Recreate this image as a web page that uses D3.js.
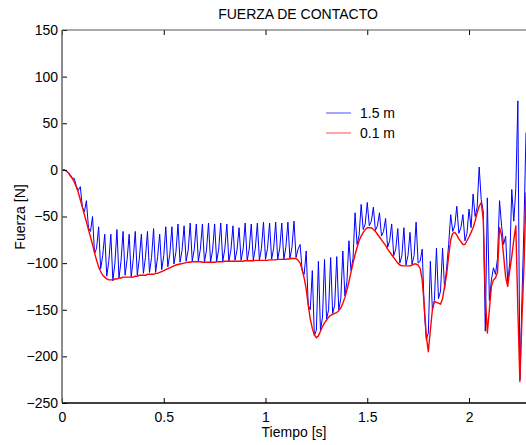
<!DOCTYPE html>
<html>
<head>
<meta charset="utf-8">
<script src="https://cdn.jsdelivr.net/npm/d3@7/dist/d3.min.js"></script>
<style>
  html, body { margin: 0; padding: 0; background: #fff; }
  svg { display: block; font-family: "Liberation Sans", Arial, sans-serif; }
</style>
</head>
<body>
<svg id="chart" width="526" height="445"></svg>
<script>
// ---- data ----
const title = "FUERZA DE CONTACTO";
const xLabel = "Tiempo [s]";
const yLabel = "Fuerza [N]";
const xTicks = [0, 0.5, 1, 1.5, 2];
const yTicks = [150, 100, 50, 0, -50, -100, -150, -200, -250];
const seriesNames = ["1.5 m", "0.1 m"];
const sampleStep = 0.01; // s, sampling interval of both series

// 1.5 m (blue)
const blue = [
  0, 0, -1, -3, -5, -9, -9, -17, -22, -18,
  -40, -45, -33, -62, -66, -50, -90, -84, -61, -106,
  -92, -69, -114, -98, -69, -119, -100, -64, -116, -98,
  -66, -113, -96, -69, -115, -96, -66, -113, -95, -69,
  -111, -94, -66, -110, -94, -63, -110, -93, -69, -107,
  -92, -61, -104, -90, -61, -101, -88, -58, -99, -86,
  -60, -98, -86, -57, -98, -85, -58, -98, -85, -58,
  -99, -86, -57, -99, -86, -58, -98, -85, -57, -98,
  -85, -58, -98, -86, -60, -97, -86, -62, -97, -85,
  -57, -97, -85, -58, -97, -84, -57, -97, -84, -56,
  -96, -84, -57, -96, -84, -56, -96, -84, -57, -96,
  -83, -56, -95, -83, -55, -94, -85, -80, -108, -112,
  -87, -145, -150, -108, -178, -172, -98, -172, -158, -96,
  -160, -150, -94, -154, -145, -93, -150, -138, -87, -135,
  -120, -76, -108, -95, -46, -80, -70, -37, -64, -58,
  -35, -60, -55, -40, -65, -60, -46, -71, -66, -52,
  -83, -76, -58, -92, -85, -63, -100, -92, -62, -102,
  -92, -67, -101, -92, -56, -100, -98, -85, -150, -182,
  -175, -98, -150, -140, -84, -138, -130, -84, -128, -105,
  -80, -48, -66, -60, -39, -68, -62, -48, -76, -68,
  -42, -62, -26, -50, -40, 3, -32, -45, -173, -30,
  -140, -118, -105, -112, -95, -33, -60, -80, -71, -120,
  -100, -21, -55, -20, 74, -225, -140, -60, 40
];

// 0.1 m (red)
const red = [
  0, 0, -1, -3, -6, -9, -13, -18, -24, -32,
  -40, -48, -56, -64, -72, -80, -89, -97, -104, -109,
  -113, -115, -117, -118, -118, -118, -117, -117, -116, -116,
  -115, -115, -115, -115, -115, -115, -114, -114, -113, -113,
  -113, -113, -112, -112, -112, -112, -111, -111, -110, -109,
  -108, -107, -106, -105, -104, -103, -102, -101.5, -101, -100.5,
  -100, -99.5, -99, -99, -98.5, -98.5, -98.5, -98.5, -98.5, -99,
  -99, -99, -99, -99, -99, -99, -98.5, -98.5, -98.5, -98.5,
  -98, -98, -98, -98, -98, -98, -98, -98, -98, -98,
  -97.5, -97.5, -97.5, -97.5, -97.5, -97, -97, -97, -97, -97,
  -97, -97, -96.5, -96.5, -96.5, -96.5, -96, -96, -96, -96,
  -96, -95.5, -95.5, -95, -95, -95, -97, -100, -107, -116,
  -128, -145, -160, -170, -177, -180, -178, -173, -168, -164,
  -161, -158, -156, -155, -154, -153, -151, -148, -143, -137,
  -129, -120, -110, -100, -91, -83, -76, -71, -67, -64,
  -62, -62, -62, -64, -66, -69, -72, -75, -78, -81,
  -85, -88, -91, -94, -97, -100, -102, -103, -103, -103,
  -103, -103, -102, -101, -101, -102, -106, -118, -145, -178,
  -195, -172, -150, -141, -142, -143, -144, -138, -125, -112,
  -92, -75, -68, -67, -70, -74, -77, -80, -80, -76,
  -72, -67, -62, -55, -46, -39, -35, -53, -135, -175,
  -150, -125, -118, -116, -110, -62, -70, -92, -115, -125,
  -108, -93, -75, -60, -150, -227, -160, -103, -24
];

const seriesColors = ["#0000ff", "#ff0000"];

// ---- layout ----
const svg = d3.select("#chart");
const mLeft = 62, mTop = 30, mRight = 526, mBottom = 403;

const x = d3.scaleLinear().domain([0, 2.28]).range([mLeft, mRight]);
const y = d3.scaleLinear().domain([-250, 150]).range([mBottom, mTop]);

svg.append("defs").append("clipPath").attr("id", "clip")
  .append("rect").attr("x", mLeft).attr("y", mTop)
  .attr("width", mRight - mLeft).attr("height", mBottom - mTop);

const line = d3.line()
  .x((d, i) => x(i * sampleStep))
  .y(d => y(d));

const plot = svg.append("g").attr("clip-path", "url(#clip)");

plot.append("path").datum(blue)
  .attr("fill", "none").attr("stroke", seriesColors[0])
  .attr("stroke-width", 1).attr("stroke-linejoin", "round")
  .attr("d", line);

plot.append("path").datum(red)
  .attr("fill", "none").attr("stroke", seriesColors[1])
  .attr("stroke-width", 1.4).attr("stroke-linejoin", "round")
  .attr("d", line);

// ---- axes ----
const fontSize = 14;

const xAxis = d3.axisBottom(x).tickValues(xTicks).tickSize(-5).tickPadding(9)
  .tickFormat(d3.format("~g"));
const gx = svg.append("g").attr("transform", `translate(0,${mBottom})`).call(xAxis);
gx.select(".domain").remove();
gx.selectAll("line").attr("stroke", "#000");
gx.selectAll("text").attr("font-size", fontSize).attr("fill", "#000")
  .attr("font-family", "Liberation Sans, Arial, sans-serif");

const xTop = d3.axisTop(x).tickValues(xTicks).tickSize(-5).tickFormat("");
const gt = svg.append("g").attr("transform", `translate(0,${mTop})`).call(xTop);
gt.select(".domain").remove();
gt.selectAll("line").attr("stroke", "#000");

const yAxis = d3.axisLeft(y).tickValues(yTicks).tickSize(-5).tickPadding(4)
  .tickFormat(d3.format("d"));
const gy = svg.append("g").attr("transform", `translate(${mLeft},0)`).call(yAxis);
gy.select(".domain").remove();
gy.selectAll("line").attr("stroke", "#000");
gy.selectAll("text").attr("font-size", fontSize).attr("fill", "#000")
  .attr("font-family", "Liberation Sans, Arial, sans-serif");

// spines
svg.append("line").attr("x1", mLeft).attr("x2", mRight).attr("y1", mTop).attr("y2", mTop)
  .attr("stroke", "#555").attr("stroke-width", 1);
svg.append("line").attr("x1", mLeft).attr("x2", mRight).attr("y1", mBottom).attr("y2", mBottom)
  .attr("stroke", "#000").attr("stroke-width", 1.3);
svg.append("line").attr("x1", mLeft).attr("x2", mLeft).attr("y1", mTop).attr("y2", mBottom)
  .attr("stroke", "#666").attr("stroke-width", 1.5);

// title & labels
svg.append("text").attr("x", 298).attr("y", 19).attr("text-anchor", "middle")
  .attr("font-size", fontSize).text(title);
svg.append("text").attr("x", 294).attr("y", 437).attr("text-anchor", "middle")
  .attr("font-size", fontSize).text(xLabel);
svg.append("text").attr("transform", "translate(25,217) rotate(-90)")
  .attr("text-anchor", "middle").attr("font-size", fontSize).text(yLabel);

// legend
const legend = svg.append("g");
seriesNames.forEach((name, i) => {
  const ly = 113 + i * 20;
  legend.append("line").attr("x1", 326).attr("x2", 351).attr("y1", ly).attr("y2", ly)
    .attr("stroke", seriesColors[i]).attr("stroke-width", 1).attr("opacity", 0.7);
  legend.append("text").attr("x", 360).attr("y", ly + 5).attr("font-size", fontSize)
    .text(name);
});
</script>
</body>
</html>
